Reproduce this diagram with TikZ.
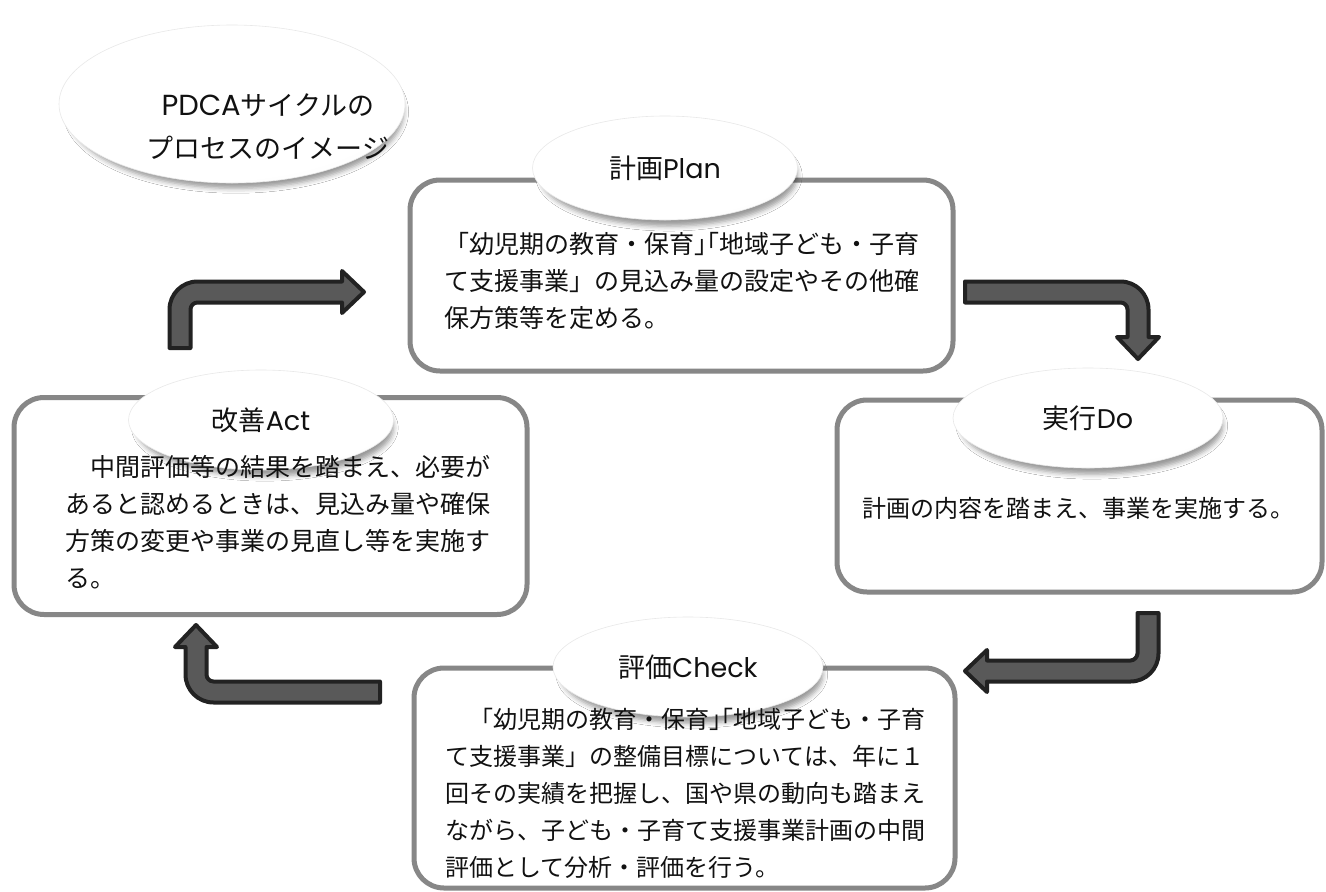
\documentclass[tikz,border=0pt]{standalone}
\usepackage{fontspec}
\newfontfamily\jp{Noto Sans CJK JP}
\newfontfamily\lat{Poppins}
\usetikzlibrary{shapes.geometric,shadows.blur}
\definecolor{boxgray}{HTML}{878787}
\definecolor{arrfill}{HTML}{595959}
\definecolor{arrline}{HTML}{222222}
\definecolor{txt}{HTML}{111111}
\pgfdeclareradialshading{tagshade}{\pgfpoint{-8bp}{12bp}}{color(0bp)=(white); color(30bp)=(white); color(44bp)=(black!5); color(52bp)=(black!22); color(60bp)=(black!22)}
\newcommand{\kakko}{」\kern-1em「}
\newcommand{\la}[1]{{\lat #1}}
\begin{document}
\begin{tikzpicture}[x=1pt,y=-1pt,
  box/.style={draw=boxgray, line width=5pt, rounded corners=30pt, fill=white, inner sep=0pt, outer sep=0pt},
  tag/.style={ellipse, shading=tagshade, draw=black!9, line width=0.6pt, inner sep=0pt, text=txt,
    blur shadow={shadow xshift=4pt, shadow yshift=-8pt, shadow blur radius=5pt, shadow scale=0.97, shadow opacity=40},
    font=\jp\fontsize{27}{30}\selectfont},
  body/.style={align=left, inner sep=0pt, anchor=north west, text=txt, font=\jp\fontsize{25}{37}\selectfont},
  blockarrow/.style={fill=arrfill, draw=arrline, line width=4pt, line join=round}]
\useasboundingbox (0,0) rectangle (1326,892);
\fill[white] (0,0) rectangle (1326,892);

% boxes
\node[box, minimum width=543pt, minimum height=191pt] (planbox) at (681.5,275.5) {};
\node[box, minimum width=513pt, minimum height=217pt] (actbox) at (270.5,506) {};
\node[box, minimum width=485pt, minimum height=192pt] (dobox) at (1079.5,496) {};
\node[box, minimum width=541pt, minimum height=220pt] (checkbox) at (684.5,778) {};

% title ellipse
\node[tag, minimum width=346pt, minimum height=158pt] (title) at (232,104) {};
\node[align=center, inner sep=0pt, text=txt, font=\jp\fontsize{27}{43}\selectfont] (titletext) at (268,127) {{\lat\fontsize{29}{43}\selectfont PDCA}サイクルの\\プロセスのイメージ};

% tags
\node[tag, minimum width=265pt, minimum height=104pt] (plantag) at (665,168) {計画\la{Plan}};
\node[tag, minimum width=265pt, minimum height=100pt] (acttag) at (261,420) {改善\la{Act}};
\node[tag, minimum width=270pt, minimum height=100pt] (dotag) at (1088,418) {実行\la{Do}};
\node[tag, minimum width=270pt, minimum height=100pt] (checktag) at (688,667) {評価\la{Check}};

% body texts
\node[body] (plantext) at (444,232.5) {「幼児期の教育・保育\kakko 地域子ども・子育\\て支援事業」の見込み量の設定やその他確\\保方策等を定める。};
\node[body] (acttext) at (65,455.5) {　中間評価等の結果を踏まえ、必要が\\あると認めるときは、見込み量や確保\\方策の変更や事業の見直し等を実施す\\る。};
\node[inner sep=0pt, text=txt, font=\jp\fontsize{24}{37}\selectfont] (dotext) at (1078,508) {計画の内容を踏まえ、事業を実施する。};
\node[body, font=\jp\fontsize{24}{37}\selectfont] (checktext) at (445,708) {　「幼児期の教育・保育\kakko 地域子ども・子育\\て支援事業」の整備目標については、年に１\\回その実績を把握し、国や県の動向も踏まえ\\ながら、子ども・子育て支援事業計画の中間\\評価として分析・評価を行う。};

% block arrows
% Act -> Plan
\draw[blockarrow] (169.5,348) -- (169.5,309.5) .. controls (169.5,294.04) and (182.04,281.5) .. (197.5,281.5) -- (342,281.5) -- (342,271) -- (364,292) -- (342,313) -- (342,302.5) -- (197.5,302.5) .. controls (193.64,302.5) and (190.5,305.64) .. (190.5,309.5) -- (190.5,348) -- cycle;
% Plan -> Do
\draw[blockarrow] (965,281.5) -- (1120.5,281.5) .. controls (1135.96,281.5) and (1148.5,294.04) .. (1148.5,309.5) -- (1148.5,337) -- (1159,337) -- (1138,359) -- (1117,337) -- (1127.5,337) -- (1127.5,309.5) .. controls (1127.5,305.64) and (1124.36,302.5) .. (1120.5,302.5) -- (965,302.5) -- cycle;
% Do -> Check
\draw[blockarrow] (1137.5,613) -- (1158.5,613) -- (1158.5,653.5) .. controls (1158.5,668.96) and (1145.96,681.5) .. (1130.5,681.5) -- (987,681.5) -- (987,692) -- (965,671) -- (987,650) -- (987,660.5) -- (1130.5,660.5) .. controls (1134.36,660.5) and (1137.5,656.64) .. (1137.5,653.5) -- cycle;
% Check -> Act
\draw[blockarrow] (380,681.5) -- (380,702.5) -- (213.5,702.5) .. controls (198.04,702.5) and (185.5,689.96) .. (185.5,674.5) -- (185.5,647) -- (175,647) -- (196,625) -- (217,647) -- (206.5,647) -- (206.5,674.5) .. controls (206.5,678.36) and (209.64,681.5) .. (213.5,681.5) -- cycle;
\end{tikzpicture}
\end{document}
